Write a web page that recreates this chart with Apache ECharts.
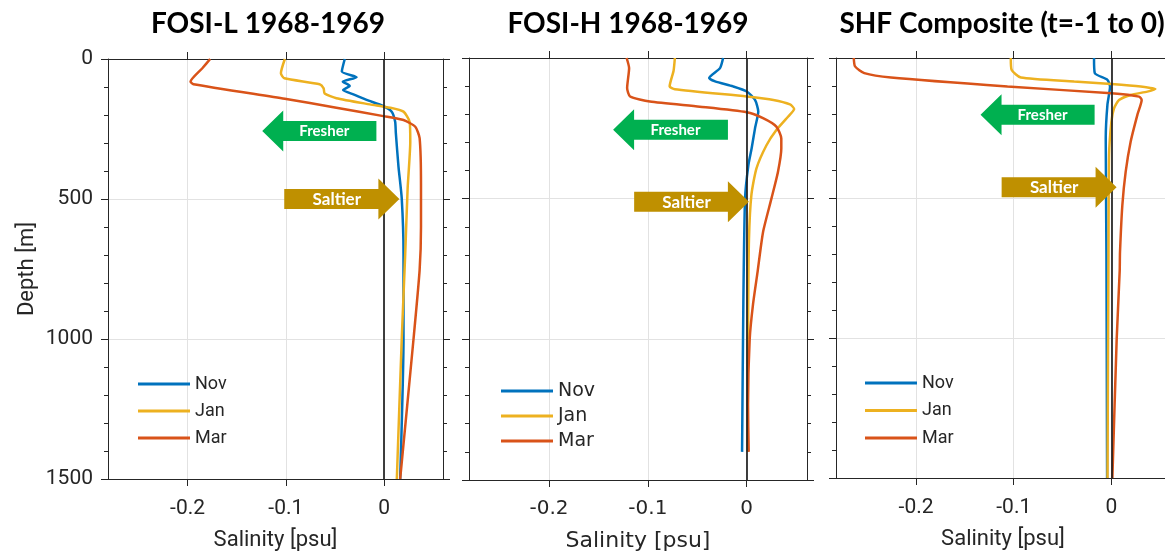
<!DOCTYPE html>
<html><head><meta charset="utf-8">
<script src="https://cdn.jsdelivr.net/npm/echarts@6/dist/echarts.min.js"></script>
<style>html,body{margin:0;padding:0;background:#fff}#c{width:1165px;height:555px}</style>
</head><body><div id="c"></div>
<script>
// ---------- data ----------
const panelTitles = ['FOSI-L 1968-1969', 'FOSI-H 1968-1969', 'SHF Composite (t=-1 to 0)'];
const months = ['Nov', 'Jan', 'Mar'];
const depthTicks = [0, 500, 1000, 1500];
const salinityTicks = [-0.2, -0.1, 0];

// [salinity anomaly (psu), depth (m)]
const fosiL_Nov = [[-0.040,0],[-0.043,45],[-0.028,65],[-0.042,81],[-0.035,96],[-0.0417,111],[-0.030,128],[-0.0178,146],[-0.0007,168],[0.0078,188],[0.0113,224],[0.012,265],[0.0147,385],[0.018,498],[0.0198,694],[0.0198,1000],[0.0164,1500]];
const fosiL_Jan = [[-0.101,0],[-0.105,51],[-0.1015,69],[-0.0656,90],[-0.0615,105],[-0.0605,123],[-0.0485,140],[-0.0144,162],[0.006,174],[0.0198,188],[0.026,224],[0.0267,295],[0.024,462],[0.0215,700],[0.018,1000],[0.013,1500]];
const fosiL_Mar = [[-0.177,0],[-0.185,33],[-0.197,81],[-0.194,90],[-0.101,142],[-0.05,173],[-0.0007,204],[0.0198,218],[0.0318,242],[0.0362,283],[0.0376,450],[0.0376,600],[0.0362,754],[0.030,1000],[0.0164,1500]];

const fosiH_Nov = [[-0.0239,0],[-0.027,36],[-0.038,71],[-0.032,83],[-0.0138,101],[0,119],[0.0084,149],[0.0117,190],[0.0084,250],[0.005,321],[0.0017,381],[-0.0017,500],[-0.0034,869],[-0.0047,1400]];
const fosiH_Jan = [[-0.0727,0],[-0.074,45],[-0.078,101],[-0.0727,111],[0,137],[0.027,149],[0.0438,165],[0.048,181],[0.042,208],[0.030,256],[0.020,310],[0.0098,393],[0.0047,488],[0.0023,643],[0.0015,900],[0.001,1400]];
const fosiH_Mar = [[-0.1215,0],[-0.119,36],[-0.121,107],[-0.118,137],[-0.098,155],[-0.0475,173],[0,193],[0.0165,214],[0.030,244],[0.035,286],[0.035,322],[0.0316,405],[0.025,500],[0.0165,619],[0.011,760],[0.0064,875],[0.003,1000],[0.0013,1232],[0.002,1400]];

const shf_Nov = [[-0.0178,0],[-0.017,54],[-0.0041,78],[-0.0014,102],[-0.0041,168],[-0.0058,287],[-0.0051,700],[-0.0044,1500]];
const shf_Jan = [[-0.103,0],[-0.1022,42],[-0.0927,70],[-0.0382,84],[0,93],[0.030,102],[0.045,111],[0.0368,120],[0.0197,132],[0.0078,150],[0.0027,180],[0,227],[-0.0024,347],[-0.003,700],[-0.004,1500]];
const shf_Mar = [[-0.2638,0],[-0.2625,30],[-0.253,54],[-0.2257,70],[-0.1064,102],[0,126],[0.0283,138],[0.031,150],[0.0266,203],[0.0197,299],[0.0146,407],[0.0112,526],[0.0088,694],[0.0085,760],[0.0054,1005],[0.001,1500]];

// arrow annotations: [panel, text, tip salinity, tail salinity, depth]
const arrowNotes = [
  [0, 'Fresher', -0.124, -0.0078, 257],
  [0, 'Saltier', 0.0156, -0.1016, 500],
  [1, 'Fresher', -0.1352, -0.019, 255],
  [1, 'Saltier', 0.0022, -0.1139, 511],
  [2, 'Fresher', -0.134, -0.0172, 203],
  [2, 'Saltier', 0.0053, -0.1124, 462]
];

// ---------- layout / style ----------
const panelData = [[fosiL_Nov, fosiL_Jan, fosiL_Mar],[fosiH_Nov, fosiH_Jan, fosiH_Mar],[shf_Nov, shf_Jan, shf_Mar]];
const colors = ['#0072BD', '#EDB120', '#D95319'];
const grids = [
  {left: 108, top: 59, width: 335, height: 420},
  {left: 469, top: 58, width: 338, height: 422},
  {left: 836, top: 58, width: 334, height: 420}
];
const xRanges = [[-0.281, 0.06], [-0.281, 0.061], [-0.282, 0.06]];
const fonts = ['Roboto', 'DejaVu Sans', 'Roboto'];
const titleX = [268, 628, 1002];
const legendPos = [
  {left: 138, top: 375, gap: 9, fs: 18, lh: 18},
  {left: 501, top: 381.5, gap: 6, fs: 19, lh: 19},
  {left: 865, top: 374, gap: 9.5, fs: 18, lh: 18}
];
const axisColor = '#262626';
const gridColor = '#e2e2e2';

const chart = echarts.init(document.getElementById('c'), null, {renderer: 'canvas'});

const xAxis = [], yAxis = [], series = [], legend = [];
for (let i = 0; i < 3; i++) {
  xAxis.push({
    gridIndex: i, type: 'value', position: 'bottom', min: xRanges[i][0], max: xRanges[i][1],
    axisLine: {show: true, onZero: false, lineStyle: {color: axisColor, width: 1}},
    axisTick: {show: true, inside: false, length: 7, customValues: salinityTicks, lineStyle: {color: axisColor}},
    axisLabel: {show: true, customValues: salinityTicks, margin: 19, fontSize: i === 1 ? 20 : 21, fontFamily: fonts[i], color: axisColor,
      formatter: v => (Math.abs(v) < 1e-9 ? '0' : v.toFixed(1))},
    splitLine: {show: true, lineStyle: {color: gridColor, width: 1}},
    name: 'Salinity [psu]', nameLocation: 'middle', nameGap: 50,
    nameTextStyle: {fontSize: 22, fontFamily: fonts[i], color: axisColor}
  });
}
for (let i = 0; i < 3; i++) {
  xAxis.push({
    gridIndex: i, type: 'value', position: 'top', min: xRanges[i][0], max: xRanges[i][1],
    axisLine: {show: true, onZero: false, lineStyle: {color: axisColor, width: 1}},
    axisTick: {show: true, inside: false, length: 7, customValues: salinityTicks, lineStyle: {color: axisColor}},
    axisLabel: {show: false}, splitLine: {show: false}
  });
}
for (let i = 0; i < 3; i++) {
  yAxis.push({
    gridIndex: i, type: 'value', position: 'left', inverse: true, min: depthTicks[0], max: depthTicks[depthTicks.length - 1], interval: 500,
    axisLine: {show: true, onZero: false, lineStyle: {color: axisColor, width: 1}},
    axisTick: {show: true, inside: false, length: 7, lineStyle: {color: axisColor}},
    minorTick: {show: true, splitNumber: 5, length: 4, lineStyle: {color: axisColor}},
    axisLabel: {show: i === 0, margin: 15, fontSize: 21, fontFamily: fonts[i], color: axisColor, formatter: v => String(v)},
    splitLine: {show: true, lineStyle: {color: gridColor, width: 1}},
    minorSplitLine: {show: false},
    name: i === 0 ? 'Depth [m]' : '', nameLocation: 'middle', nameGap: 70,
    nameTextStyle: {fontSize: 22, fontFamily: fonts[i], color: axisColor}
  });
}
for (let i = 0; i < 3; i++) {
  yAxis.push({
    gridIndex: i, type: 'value', position: 'right', inverse: true, min: depthTicks[0], max: depthTicks[depthTicks.length - 1], interval: 500,
    axisLine: {show: true, onZero: false, lineStyle: {color: axisColor, width: 1}},
    axisTick: {show: true, inside: false, length: 7, lineStyle: {color: axisColor}},
    minorTick: {show: true, splitNumber: 5, length: 4, lineStyle: {color: axisColor}},
    axisLabel: {show: false}, splitLine: {show: false}
  });
}
for (let i = 0; i < 3; i++) {
  for (let m = 0; m < 3; m++) {
    const s = {
      name: months[m], type: 'line', xAxisIndex: i, yAxisIndex: i,
      data: panelData[i][m], showSymbol: false, symbol: 'none',
      smooth: 0.2, color: colors[m],
      lineStyle: {color: colors[m], width: 2.5}, z: 2 + m, animation: false
    };
    if (m === 2) {
      s.markLine = {silent: true, symbol: ['none', 'none'], label: {show: false}, animation: false,
        lineStyle: {color: '#1e1e1e', width: 1.7, type: 'solid'}, emphasis: {disabled: true}, data: [{xAxis: 0}]};
    }
    series.push(s);
  }
  const lp = legendPos[i];
  legend.push({
    orient: 'vertical', left: lp.left, top: lp.top, padding: 0, itemGap: lp.gap,
    icon: 'rect', itemWidth: 52, itemHeight: 3, selectedMode: false,
    data: months,
    textStyle: {fontSize: lp.fs, lineHeight: lp.lh, fontFamily: fonts[i], color: axisColor}
  });
}

chart.setOption({
  animation: false,
  backgroundColor: '#ffffff',
  grid: grids.map(g => Object.assign({outerBoundsMode: 'none', containLabel: false}, g)),
  xAxis, yAxis, series, legend
});

// ---------- annotations (titles + arrows) ----------
const graphic = [];
for (let i = 0; i < 3; i++) {
  graphic.push({
    type: 'text', z: 100,
    style: {text: panelTitles[i], x: titleX[i], y: 24, textAlign: 'center', textVerticalAlign: 'middle',
      fontSize: 28, fontWeight: 'bold', fontFamily: 'Lato', fill: '#000'}
  });
}
const BODY = 10, HEAD = 20.5, HEADLEN = 21;
arrowNotes.forEach(([p, txt, tipV, tailV, depth]) => {
  const tip = chart.convertToPixel({xAxisIndex: p, yAxisIndex: p}, [tipV, depth]);
  const tail = chart.convertToPixel({xAxisIndex: p, yAxisIndex: p}, [tailV, depth]);
  const y = tip[1], tx = tip[0], ax = tail[0];
  const s = Math.sign(ax - tx);
  const base = tx + s * HEADLEN;
  const fill = txt === 'Fresher' ? '#00B050' : '#BF9000';
  graphic.push({
    type: 'polygon', z: 90,
    shape: {points: [[tx, y], [base, y - HEAD], [base, y - BODY], [ax, y - BODY], [ax, y + BODY], [base, y + BODY], [base, y + HEAD]]},
    style: {fill: fill}
  });
  graphic.push({
    type: 'text', z: 95,
    style: {text: txt, x: (base + ax) / 2 - s * 5.5, y: y + 0.5, textAlign: 'center', textVerticalAlign: 'middle',
      fontSize: txt === 'Fresher' ? 15 : 17, fontWeight: 'bold', fontFamily: 'Lato', fill: '#ffffff'}
  });
});
chart.setOption({graphic});
</script>
</body></html>
